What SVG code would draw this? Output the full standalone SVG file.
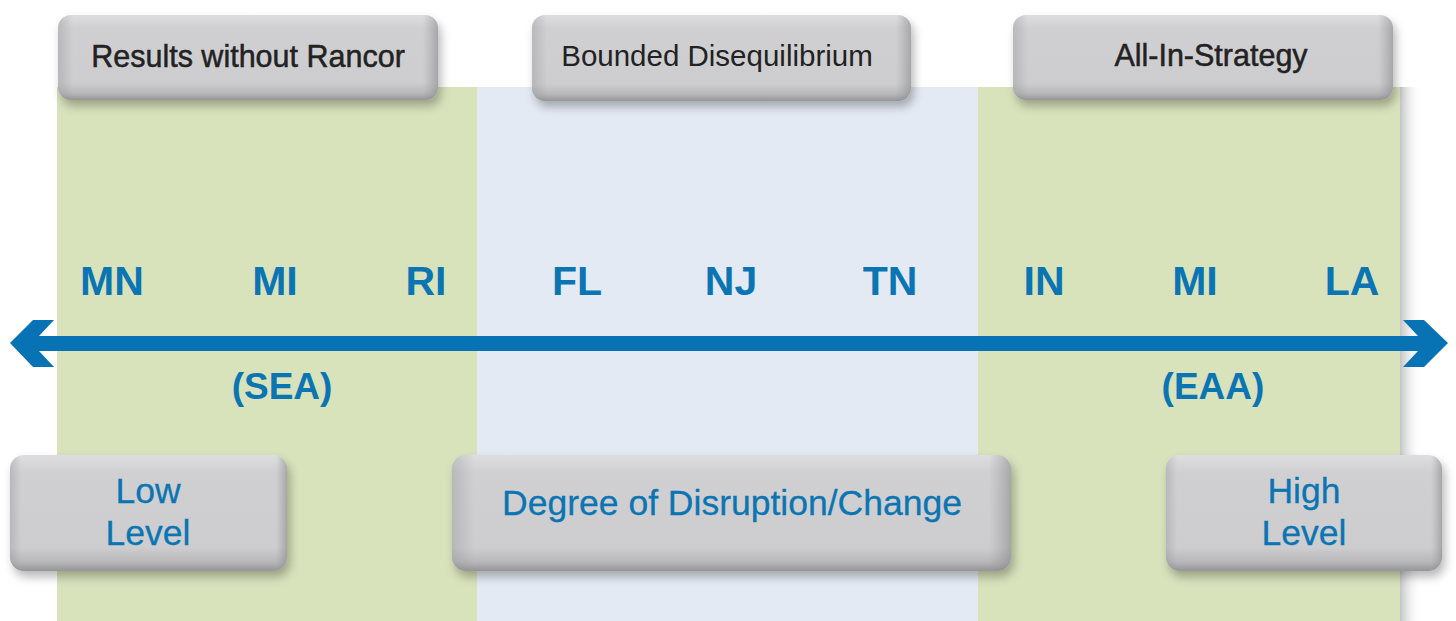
<svg xmlns="http://www.w3.org/2000/svg" width="1456" height="621" viewBox="0 0 1456 621">
  <style>
    .state { font-family: "Liberation Sans", Arial, sans-serif; font-weight: bold; font-size: 41px; fill: #0b75b3; text-anchor: middle; }
    .abbr { font-family: "Liberation Sans", Arial, sans-serif; font-weight: bold; font-size: 37px; fill: #0b75b3; text-anchor: middle; }
    .toplbl { font-family: "Liberation Sans", Arial, sans-serif; font-size: 29.5px; fill: #222222; text-anchor: middle; }
    .topbold { font-size: 30.5px; stroke: #222222; stroke-width: 0.5px; }
    .botlbl { font-family: "Liberation Sans", Arial, sans-serif; font-size: 35.5px; fill: #0b75b3; text-anchor: middle; stroke: #0b75b3; stroke-width: 0.3px; }
    .box { fill: url(#boxV); filter: url(#shadow); }
    .boxside { fill: url(#boxH); }
  </style>
  <defs>
    <linearGradient id="boxV" x1="0" y1="0" x2="0" y2="1">
      <stop offset="0" stop-color="#dedee0"/>
      <stop offset="0.15" stop-color="#d0d0d2"/>
      <stop offset="0.8" stop-color="#cdcdcf"/>
      <stop offset="0.92" stop-color="#b8b8bb"/>
      <stop offset="1" stop-color="#959598"/>
    </linearGradient>
    <linearGradient id="boxH" x1="0" y1="0" x2="1" y2="0">
      <stop offset="0" stop-color="#8e8e92" stop-opacity="0.35"/>
      <stop offset="0.04" stop-color="#8e8e92" stop-opacity="0"/>
      <stop offset="0.96" stop-color="#8e8e92" stop-opacity="0"/>
      <stop offset="1" stop-color="#7e7e82" stop-opacity="0.5"/>
    </linearGradient>
    <linearGradient id="panelShadow" x1="0" y1="0" x2="1" y2="0">
      <stop offset="0" stop-color="#b5b5b8" stop-opacity="0.8"/>
      <stop offset="1" stop-color="#ffffff" stop-opacity="0"/>
    </linearGradient>
    <filter id="shadow" x="-10%" y="-20%" width="125%" height="160%">
      <feDropShadow dx="3" dy="6" stdDeviation="5" flood-color="#000000" flood-opacity="0.28"/>
    </filter>
  </defs>

  <!-- background panels -->
  <g id="panels">
    <rect x="0" y="0" width="1456" height="621" fill="#ffffff"/>
    <rect x="1400" y="87" width="22" height="534" fill="url(#panelShadow)"/>
    <rect x="57" y="87" width="420" height="534" fill="#d8e2bb"/>
    <rect x="477" y="87" width="501" height="534" fill="#e4eaf4"/>
    <rect x="978" y="87" width="422" height="534" fill="#d8e2bb"/>
  </g>

  <!-- connector: double-headed arrow -->
  <g id="connectors">
    <path d="M10,343 L33,320 L54,320 L39,336 L1418,336 L1403,320 L1424,320 L1448,343 L1424,367 L1403,367 L1418,351 L39,351 L54,367 L33,367 Z" fill="#0873b4"/>
  </g>

  <!-- state labels -->
  <g id="states">
    <text class="state" x="112" y="295">MN</text>
    <text class="state" x="275" y="295">MI</text>
    <text class="state" x="426" y="295">RI</text>
    <text class="state" x="577" y="295">FL</text>
    <text class="state" x="731" y="295">NJ</text>
    <text class="state" x="890" y="295">TN</text>
    <text class="state" x="1044" y="295">IN</text>
    <text class="state" x="1195" y="295">MI</text>
    <text class="state" x="1352" y="295">LA</text>
  </g>

  <g id="sea"><text class="abbr" x="282" y="399">(SEA)</text></g>
  <g id="eaa"><text class="abbr" x="1213" y="399">(EAA)</text></g>

  <!-- top nodes -->
  <g id="results-without-rancor">
    <rect class="box" x="58" y="15" width="380" height="85" rx="13"/>
    <rect class="boxside" x="58" y="15" width="380" height="85" rx="13"/>
    <text class="toplbl topbold" x="248" y="67">Results without Rancor</text>
  </g>
  <g id="bounded-disequilibrium">
    <rect class="box" x="532" y="15" width="379" height="86" rx="13"/>
    <rect class="boxside" x="532" y="15" width="379" height="86" rx="13"/>
    <text class="toplbl" x="717" y="66">Bounded Disequilibrium</text>
  </g>
  <g id="all-in-strategy">
    <rect class="box" x="1013" y="15" width="380" height="85" rx="13"/>
    <rect class="boxside" x="1013" y="15" width="380" height="85" rx="13"/>
    <text class="toplbl topbold" x="1211" y="66">All-In-Strategy</text>
  </g>

  <!-- bottom nodes -->
  <g id="low-level">
    <rect class="box" x="10" y="455" width="277" height="116" rx="14"/>
    <rect class="boxside" x="10" y="455" width="277" height="116" rx="14"/>
    <text class="botlbl" x="148" y="503">Low</text>
    <text class="botlbl" x="148" y="545">Level</text>
  </g>
  <g id="degree-of-disruption">
    <rect class="box" x="452" y="455" width="559" height="116" rx="14"/>
    <rect class="boxside" x="452" y="455" width="559" height="116" rx="14"/>
    <text class="botlbl" x="732" y="515" font-size="36.5">Degree of Disruption/Change</text>
  </g>
  <g id="high-level">
    <rect class="box" x="1166" y="455" width="276" height="116" rx="14"/>
    <rect class="boxside" x="1166" y="455" width="276" height="116" rx="14"/>
    <text class="botlbl" x="1304" y="503">High</text>
    <text class="botlbl" x="1304" y="545">Level</text>
  </g>
</svg>
